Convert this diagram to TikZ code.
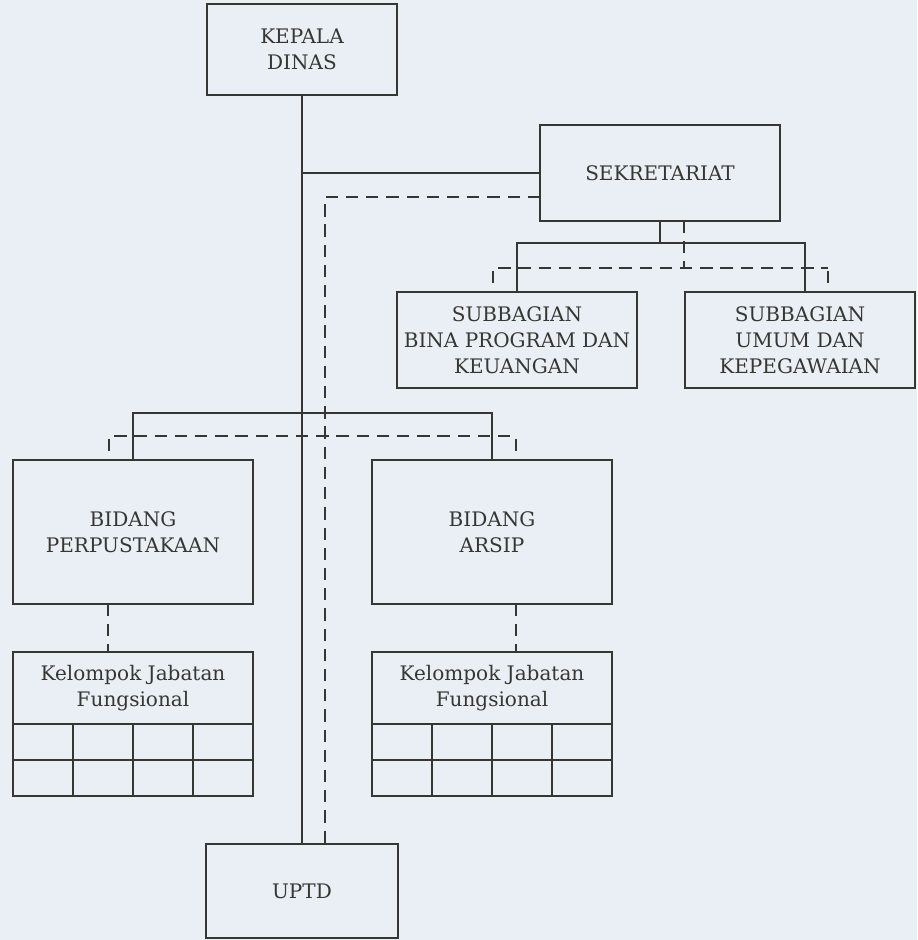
\documentclass[tikz,border=0pt]{standalone}
\usepackage{fontspec}
\setmainfont{DejaVu Serif}
\usetikzlibrary{calc}

\definecolor{paper}{RGB}{234,239,246}
\definecolor{ink}{RGB}{55,55,50}

\begin{document}
\begin{tikzpicture}[
    x=0.02cm, y=-0.02cm,
    every node/.append style={
        font=\fontsize{11.4}{14.7}\selectfont, text=ink
      },
    unitbox/.style={draw=ink, line width=1pt, align=center, inner sep=0pt, outer sep=0pt},
    conn/.style={draw=ink, line width=1pt},
    dashconn/.style={draw=ink, line width=1pt, dash pattern=on 7pt off 4.5pt}
  ]

  % paper and frame
  \fill[paper] (0,0) rectangle (917,940);
  \useasboundingbox (0,0) rectangle (917,940);

  % head and secretariat
  \node[unitbox, minimum width=3.8cm, minimum height=1.82cm] (kepala) at (302,49.5) {KEPALA\\DINAS};
  \node[unitbox, minimum width=4.8cm, minimum height=1.92cm] (sek) at (660,173) {SEKRETARIAT};
  \node[unitbox, minimum width=4.8cm, minimum height=1.92cm] (subbina) at (517,340)
    {SUBBAGIAN\\BINA PROGRAM DAN\\KEUANGAN};
  \node[unitbox, minimum width=4.6cm, minimum height=1.92cm] (subumum) at (800,340)
    {SUBBAGIAN\\UMUM DAN\\KEPEGAWAIAN};

  % the two fields
  \node[unitbox, minimum width=4.8cm, minimum height=2.88cm] (perpus) at (133,532) {BIDANG\\PERPUSTAKAAN};
  \node[unitbox, minimum width=4.8cm, minimum height=2.88cm] (arsip) at (492,532) {BIDANG\\ARSIP};
  \node[unitbox, minimum width=4.8cm, minimum height=1.44cm] (kjf1) at (133,688) {Kelompok Jabatan\\Fungsional};
  \node[unitbox, minimum width=4.8cm, minimum height=1.44cm] (kjf2) at (492,688) {Kelompok Jabatan\\Fungsional};

  % grid below each functional group
  \foreach \k in {kjf1,kjf2} {
    \draw[conn] (\k.south west) rectangle ($(\k.south east)+(0,72)$);
    \foreach \i in {1,2,3}
      \draw[conn] ($(\k.south west)+(60*\i,0)$) -- ++(0,72);
    \draw[conn] ($(\k.south west)+(0,36)$) -- ++(240,0);
  }

  \node[unitbox, minimum width=3.84cm, minimum height=1.88cm] (uptd) at (302,891) {UPTD};

  % command lines
  \coordinate (sekjoin) at (kepala.south |- sek.west);
  \draw[conn] (kepala.south) -- (uptd.north);
  \draw[conn] (sekjoin) -- (sek.west);
  \draw[conn] (sek.south) -- ++(0,22) coordinate (subbar);
  \draw[conn] (subbina.north) |- (subbar) -| ($(subumum.north)+(5,0)$);
  \draw[conn] (perpus.north) -- ++(0,-47) -| (arsip.north);

  % coordination lines
  \draw[dashconn] ($(sek.west)+(0,24)$) -| ($(uptd.north)+(23,0)$);
  \draw[dashconn] ($(sek.south)+(24,0)$) -- ++(0,47);
  \draw[dashconn] ($(subbina.north)+(-24,-9)$) |- ($(subumum.north)+(28,-24)$);
  \draw[dashconn] ($(subumum.north)+(28,-21)$) -- ++(0,13);
  \draw[dashconn] ($(perpus.north)+(-24,-9)$) |- ($(arsip.north)+(24,-24)$);
  \draw[dashconn] ($(arsip.north)+(24,-21)$) -- ++(0,13);
  \draw[dashconn] ($(perpus.south)+(-25,0)$) -- ($(kjf1.north)+(-25,0)$);
  \draw[dashconn] ($(arsip.south)+(24,0)$) -- ($(kjf2.north)+(24,0)$);
\end{tikzpicture}
\end{document}
